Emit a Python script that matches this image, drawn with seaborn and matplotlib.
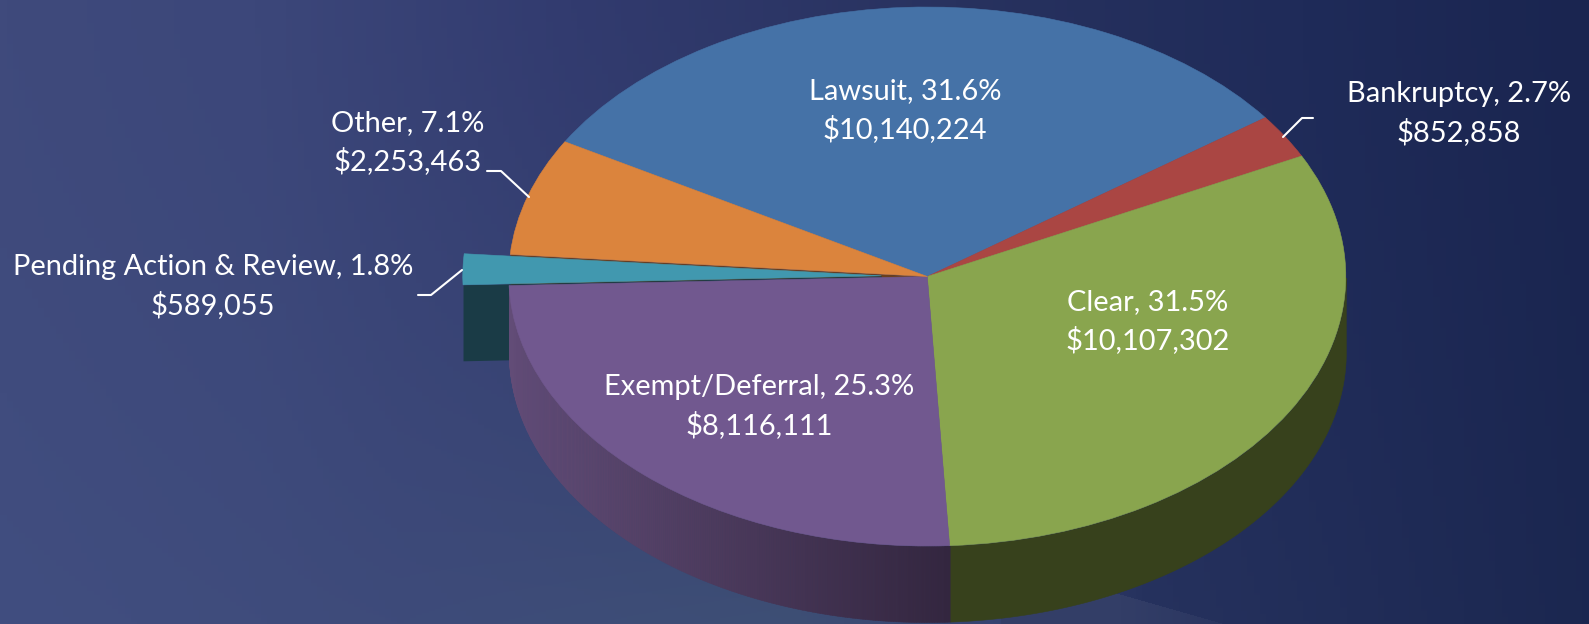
import matplotlib
matplotlib.use("Agg")
import matplotlib.pyplot as plt
import numpy as np
import seaborn as sns
from matplotlib.colors import LinearSegmentedColormap, to_rgb

W, H = 1589, 624

# chart values
categories = ["Lawsuit", "Bankruptcy", "Clear", "Exempt/Deferral", "Pending Action & Review", "Other"]
dollars = [10140224, 852858, 10107302, 8116111, 589055, 2253463]
percents = ["31.6%", "2.7%", "31.5%", "25.3%", "1.8%", "7.1%"]
explode = [0, 0, 0, 0, 0.11, 0]

colors = sns.color_palette(["#4572a7", "#aa4643", "#89a54e", "#71588f", "#4198af", "#db843d"])

# pie geometry in pixels of the output image
CX, CY, RX, RY, DEPTH = 927.3, 276.5, 418.5, 269.5, 76.0

sns.set_theme(style="white")
plt.rcParams["font.family"] = ["Lato", "DejaVu Sans"]

fig = plt.figure(figsize=(W / 100, H / 100), dpi=100)

# background gradient
bg_ax = fig.add_axes([0, 0, 1, 1])
bg_ax.axis("off")
top_row = LinearSegmentedColormap.from_list(
    "top", [(0, "#3f4a7c"), (0.16, "#3c477a"), (0.36, "#323b6f"), (0.6, "#28325f"), (0.82, "#1f2b59"), (1, "#1a2550")]
)
bottom_row = LinearSegmentedColormap.from_list(
    "bottom", [(0, "#414e80"), (0.25, "#3e4b7a"), (0.5, "#3e4f75"), (0.66, "#344070"), (0.72, "#26325e"), (0.85, "#212d58"), (1, "#1b2750")]
)
xs = np.linspace(0, 1, W)
top_rgb = top_row(xs)[:, :3]
bottom_rgb = bottom_row(xs)[:, :3]
mix = np.linspace(0, 1, H)[:, None, None] ** 1.5
bg = top_rgb[None, :, :] * (1 - mix) + bottom_rgb[None, :, :] * mix
# the faint lighter band cut off diagonally at the bottom, fading to the right
yy, xx = np.mgrid[0:H, 0:W]
band = (yy > 594 + (xx - 1120) * 30 / 105) & (xx > 1000)
fade = np.clip(1 - (xx - 1120) / 170, 0.25, 1)[..., None]
bg = np.where(band[..., None], bg * (1 - fade) + np.array(to_rgb("#333e67")) * fade, bg)
bg_ax.imshow(bg, aspect="auto", interpolation="bilinear")

# pie axes: radius 1 in data units, squashed by free limits
ax = fig.add_axes([0, 0, 1, 1])
ax.patch.set_alpha(0)
wedges, _ = ax.pie(dollars, colors=colors, startangle=150, counterclock=False, explode=explode, radius=1)
for w in wedges:
    w.set_edgecolor(w.get_facecolor())
    w.set_linewidth(0.4)
    w.set_zorder(5)
ax.set_aspect("auto")
ax.set_xlim(-CX / RX, (W - CX) / RX)
ax.set_ylim(-(H - CY) / RY, CY / RY)
d = DEPTH / RY

# side walls, taken from the wedge angles
clear, exempt, pending, other = wedges[2], wedges[3], wedges[4], wedges[5]

t = np.radians(np.linspace(clear.theta1, clear.theta2, 200))
t = t[np.sin(t) <= 0.001]
ax.fill_between(np.cos(t), np.sin(t), np.sin(t) - d, color="#37411c", lw=0.4, zorder=3)

t = np.radians(np.linspace(exempt.theta1, exempt.theta2, 260))
dark = np.array(to_rgb("#33263f"))
light = np.array(to_rgb("#624c77"))
x_left, x_right = np.cos(t).min(), np.cos(t).max()
for a, b in zip(t[:-1], t[1:]):
    seg = np.array([a, b])
    frac = (np.cos(seg).mean() - x_left) / (x_right - x_left)
    col = light * (1 - frac) + dark * frac
    ax.fill_between(np.cos(seg), np.sin(seg), np.sin(seg) - d, color=col, lw=0.4, zorder=3)

# cut faces showing through the gap left by the exploded slice
a = np.radians(other.theta2)
ax.fill_between([np.cos(a), 0], [np.sin(a), 0], [np.sin(a) - d, -d], color="#6a3f1e", lw=0, zorder=1)
a = np.radians(pending.theta2)
cx0, cy0 = pending.center
ax.fill_between([cx0 + np.cos(a) * pending.r, cx0], [cy0 + np.sin(a) * pending.r, cy0],
                [cy0 + np.sin(a) * pending.r - d, cy0 - d], color="#1a3b46", lw=0, zorder=2)


def px(x, y):
    return x / W, 1 - y / H


# labels (x centre, first baseline)
label_pos = [(905, 99), (1459, 102), (1148, 310), (759, 395), (213, 275), (408, 131)]
for name, pct, val, (lx, ly) in zip(categories, percents, dollars, label_pos):
    fx, fy = px(lx, ly)
    fig.text(fx, fy, f"{name}, {pct}", color="white", fontsize=20.9, ha="center", va="baseline", zorder=10)
    fx, fy = px(lx, ly + 39.5)
    fig.text(fx, fy, f"${val:,}", color="white", fontsize=20.9, ha="center", va="baseline", zorder=10)

# leader lines
leaders = [
    [(1283, 137), (1302, 118), (1313, 118)],
    [(487, 171), (501, 171), (529, 197)],
    [(418, 295), (431, 295), (462, 270)],
]
for pts in leaders:
    pts = [px(*p) for p in pts]
    fig.add_artist(plt.Line2D([p[0] for p in pts], [p[1] for p in pts], color="white", lw=1.5, zorder=10))

fig.savefig("out.png", dpi=100)
plt.close(fig)
